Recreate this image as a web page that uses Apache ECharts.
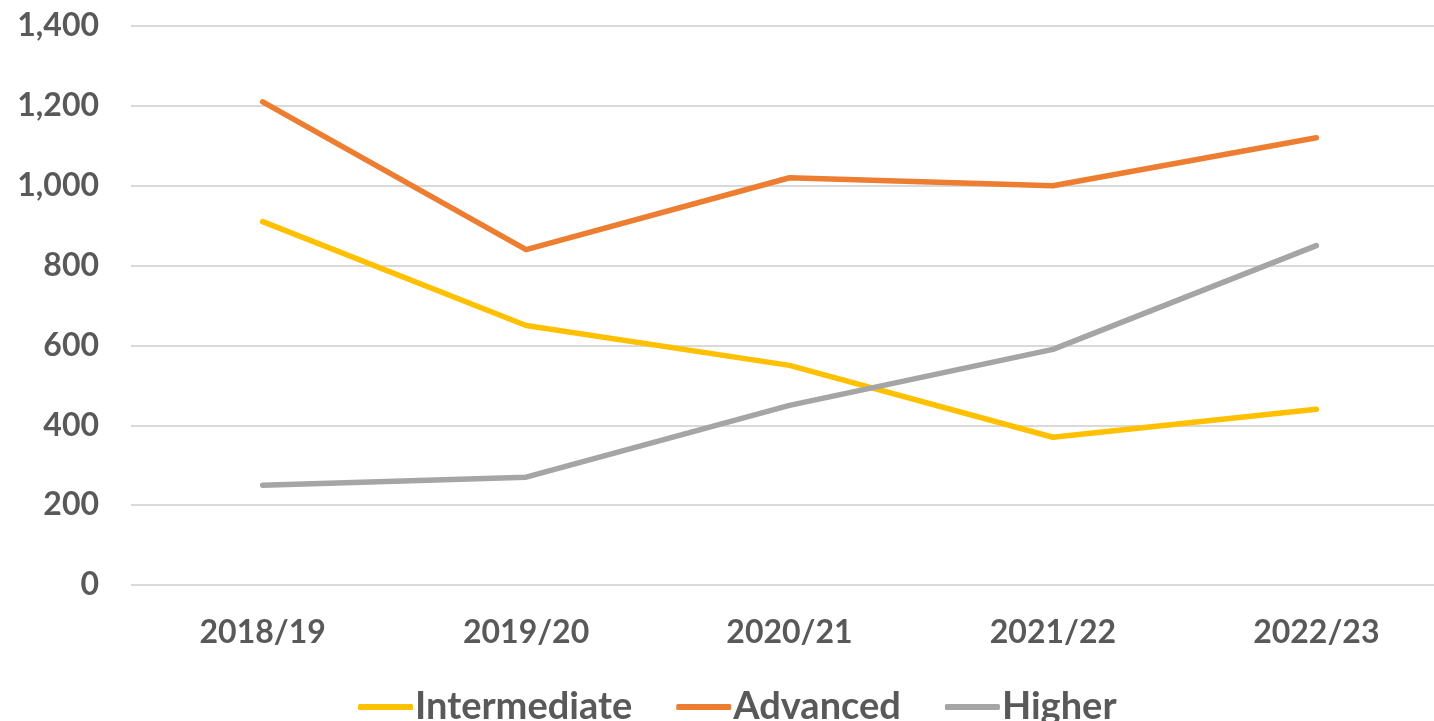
<!DOCTYPE html>
<html>
<head>
<meta charset="utf-8">
<script src="https://cdn.jsdelivr.net/npm/echarts@6/dist/echarts.min.js"></script>
<style>
html,body{margin:0;padding:0;background:#fff;overflow:hidden;width:1434px;height:721px;}
#chart{width:1448px;height:721px;}
</style>
</head>
<body>
<div id="chart"></div>
<script>
const categories = ['2018/19', '2019/20', '2020/21', '2021/22', '2022/23'];
const intermediate = [910, 650, 550, 370, 440];
const advanced = [1210, 840, 1020, 1000, 1120];
const higher = [250, 270, 450, 590, 850];
const seriesNames = ['Intermediate', 'Advanced', 'Higher'];
const yTicks = { min: 0, max: 1400, interval: 200 };

const FONT = 'Lato';
const TXT = '#595959';
const colors = ['#FFC000', '#ED7D31', '#A5A5A5'];

const chart = echarts.init(document.getElementById('chart'), null, { renderer: 'canvas' });
const mk = (name, data, color) => ({
  name, type: 'line', data, symbol: 'none', smooth: false,
  lineStyle: { width: 5.5, color, cap: 'round', join: 'round' },
  itemStyle: { color },
  emphasis: { disabled: true }
});
chart.setOption({
  animation: false,
  backgroundColor: '#fff',
  grid: { left: 131, right: 0, top: 26, bottom: 136, containLabel: false },
  xAxis: {
    type: 'category', data: categories, boundaryGap: true,
    axisLine: { show: false }, axisTick: { show: false },
    axisLabel: { color: TXT, fontFamily: FONT, fontWeight: 'bold', fontSize: 32, margin: 32 }
  },
  yAxis: {
    type: 'value', min: yTicks.min, max: yTicks.max, interval: yTicks.interval,
    axisLine: { show: false }, axisTick: { show: false },
    splitLine: { lineStyle: { color: '#D9D9D9', width: 2 } },
    axisLabel: {
      color: TXT, fontFamily: FONT, fontWeight: 'bold', fontSize: 32, margin: 32,
      formatter: v => v.toLocaleString('en-US')
    }
  },
  legend: {
    data: seriesNames, left: 353, top: 683, itemWidth: 55, itemHeight: 6, itemGap: 44,
    icon: 'roundRect',
    textStyle: { color: TXT, fontFamily: FONT, fontWeight: 'bold', fontSize: 38, lineHeight: 38, padding: [0, 0, 0, -3] }
  },
  series: [
    mk(seriesNames[0], intermediate, colors[0]),
    mk(seriesNames[1], advanced, colors[1]),
    mk(seriesNames[2], higher, colors[2])
  ]
});
</script>
</body>
</html>
